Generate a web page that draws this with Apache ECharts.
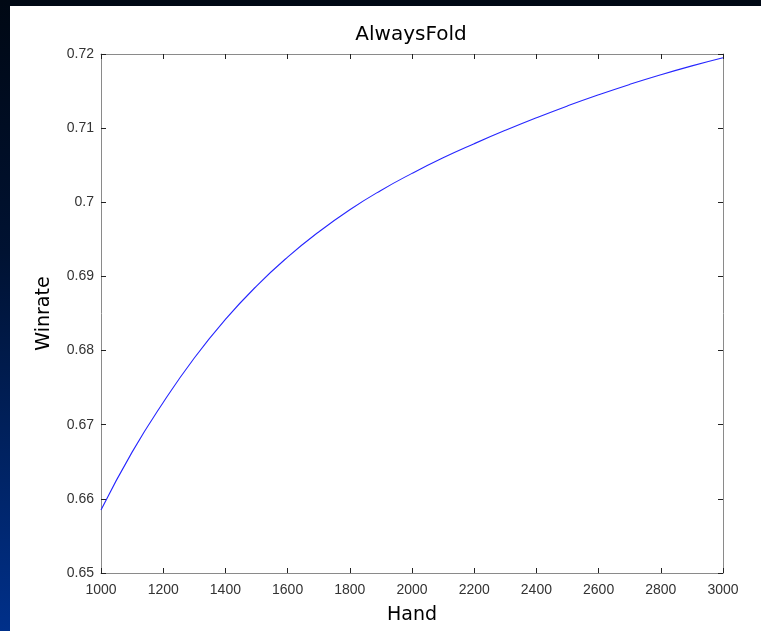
<!DOCTYPE html>
<html><head><meta charset="utf-8">
<script src="https://cdn.jsdelivr.net/npm/echarts@6/dist/echarts.min.js"></script>
<style>
html,body{margin:0;padding:0;}
body{width:761px;height:631px;overflow:hidden;background:linear-gradient(180deg,#000814 0%,#001232 40%,#00308a 100%);}
#c{position:absolute;left:10px;top:6px;width:751px;height:625px;background:#fff;}
</style></head>
<body><div id="c"></div>
<script>
const titleText = 'AlwaysFold';
const xName = 'Hand';
const yName = 'Winrate';
const hands = [1000,1100,1200,1300,1400,1500,1600,1700,1800,1900,2000,2100,2200,2300,2400,2500,2600,2700,2800,2900,3000];
const winrate = [0.6585,0.6663,0.6730,0.6790,0.6842,0.6887,0.6926,0.6960,0.6990,0.7016,0.7039,0.7060,0.7079,0.7097,0.7114,0.7130,0.7145,0.7159,0.7172,0.7184,0.7195];

const chart = echarts.init(document.getElementById('c'), null, {renderer:'canvas'});
const font = 'Liberation Sans';
const nameFont = 'DejaVu Sans';
const axisCommon = {
  axisLine:{show:true,lineStyle:{color:'#8a8a8a',width:1}},
  axisTick:{show:true,inside:true,length:5,lineStyle:{color:'#222',width:1}},
  splitLine:{show:false}
};
chart.setOption({
  animation:false,
  backgroundColor:'#fff',
  title:{text:titleText,left:396,top:14,textAlign:'center',textStyle:{fontFamily:nameFont,fontSize:20,fontWeight:'normal',color:'#000'}},
  grid:{left:91,right:38,top:48,bottom:58},
  xAxis:[
    Object.assign({type:'value',min:1000,max:3000,interval:200,position:'bottom',
      name:xName,nameLocation:'middle',nameGap:33,
      nameTextStyle:{fontFamily:nameFont,fontSize:19,color:'#000'},
      axisLabel:{fontFamily:font,fontSize:14,color:'#333',margin:10,formatter:v=>String(v)}},axisCommon),
    Object.assign({type:'value',min:1000,max:3000,interval:200,position:'top',axisLabel:{show:false}},axisCommon)
  ],
  yAxis:[
    Object.assign({type:'value',min:0.65,max:0.72,interval:0.01,position:'left',
      name:yName,nameLocation:'middle',nameGap:47,nameRotate:90,
      nameTextStyle:{fontFamily:nameFont,fontSize:19,color:'#000'},
      axisLabel:{fontFamily:font,fontSize:14,color:'#333',margin:7,formatter:v=>String(+v.toFixed(2))}},axisCommon),
    Object.assign({type:'value',min:0.65,max:0.72,interval:0.01,position:'right',axisLabel:{show:false}},axisCommon)
  ],
  series:[{type:'line',xAxisIndex:0,yAxisIndex:0,data:hands.map((h,i)=>[h,winrate[i]]),
    smooth:true,showSymbol:false,lineStyle:{color:'#2626ff',width:1.1}}]
});
</script></body></html>
